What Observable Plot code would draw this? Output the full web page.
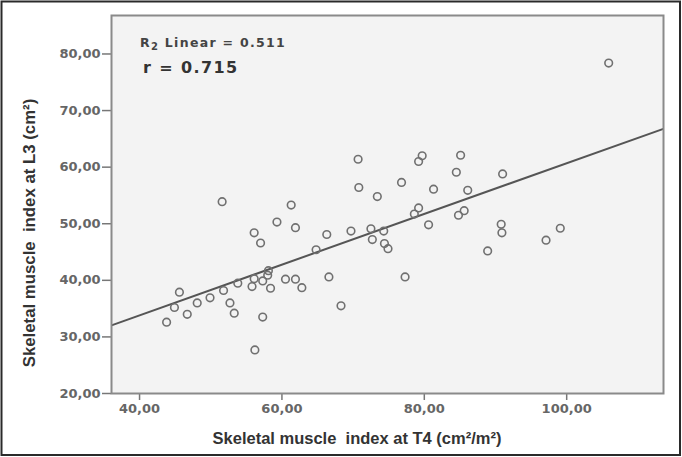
<!DOCTYPE html>
<html>
<head>
<meta charset="utf-8">
<script src="https://cdn.jsdelivr.net/npm/d3@7"></script>
<script src="https://cdn.jsdelivr.net/npm/@observablehq/plot@0.6"></script>
<style>
  html, body { margin: 0; padding: 0; background: #fff; }
  #chart svg { display: block; }
</style>
</head>
<body>
<div id="chart"></div>
<script>
// Skeletal muscle index at T4 (cm²/m²)
const smiT4 = [51.6, 61.3, 59.3, 61.9, 56.1, 57.0, 70.8, 73.4, 64.8, 66.3, 69.7, 72.5, 72.7, 74.3, 74.4, 74.9,
  58.1, 58.0, 56.1, 57.3, 55.8, 58.4, 60.5, 61.9, 62.8, 66.6, 68.3, 53.8, 51.8, 52.7, 53.3, 49.9, 48.1, 45.6,
  44.9, 46.7, 43.8, 57.3, 56.2, 105.9, 79.7, 79.2, 85.1, 84.5, 91.0, 76.8, 81.3, 86.1, 79.2, 78.6, 84.8, 85.6,
  80.6, 90.8, 90.9, 99.1, 97.1, 88.9, 77.3, 70.7];
// Skeletal muscle index at L3 (cm²)
const smiL3 = [53.9, 53.3, 50.3, 49.3, 48.4, 46.6, 56.4, 54.8, 45.4, 48.1, 48.7, 49.1, 47.2, 48.7, 46.5, 45.6,
  41.7, 40.9, 40.3, 39.9, 38.9, 38.6, 40.2, 40.2, 38.7, 40.6, 35.5, 39.5, 38.2, 36.0, 34.2, 36.9, 36.0, 37.9,
  35.2, 34.0, 32.6, 33.5, 27.7, 78.4, 62.0, 61.0, 62.1, 59.1, 58.8, 57.3, 56.1, 55.9, 52.8, 51.7, 51.5, 52.3,
  49.8, 49.9, 48.4, 49.2, 47.1, 45.2, 40.6, 61.4];
const xTicks = [40, 60, 80, 100];
const yTicks = [20, 30, 40, 50, 60, 70, 80];
const xDomain = [36.06, 113.6];
const yDomain = [20, 86.8];
const r2Text = "0.511";
const rText = "0.715";
const xTitle = "Skeletal muscle  index at T4 (cm²/m²)";
const yTitle = "Skeletal muscle  index at L3 (cm²)";

const points = smiT4.map((x, i) => ({x, y: smiL3[i]}));
// least squares fit line
const mx = d3.mean(smiT4), my = d3.mean(smiL3);
const slope = d3.sum(points, d => (d.x - mx) * (d.y - my)) / d3.sum(points, d => (d.x - mx) ** 2);
const intercept = my - slope * mx;
const fit = xDomain.map(x => ({x, y: intercept + slope * x}));

const fmt = d => d.toFixed(2).replace(".", ",");

const W = 682, H = 457;
const svg = Plot.plot({
  width: W, height: H,
  marginLeft: 111, marginRight: 19, marginTop: 15, marginBottom: 64,
  style: {background: "#fff", fontFamily: "DejaVu Sans, sans-serif"},
  x: {domain: xDomain},
  y: {domain: yDomain},
  marks: [
    Plot.frame({fill: "#f3f3f3", stroke: "none"}),
    Plot.axisX({ticks: xTicks, tickFormat: fmt, tickSize: 7, tickPadding: 3, label: null,
      fontSize: 13, fontWeight: "bold", fill: "#666", stroke: "#777", strokeWidth: 1.5}),
    Plot.axisY({ticks: yTicks, tickFormat: fmt, tickSize: 9, tickPadding: 2, label: null,
      fontSize: 13, fontWeight: "bold", fill: "#666", stroke: "#777", strokeWidth: 1.5}),
    Plot.line(fit, {x: "x", y: "y", stroke: "#555", strokeWidth: 2, clip: true}),
    Plot.dot(points, {x: "x", y: "y", r: 3.8, stroke: "#707070", strokeWidth: 1.6, fill: "none"}),
    Plot.frame({stroke: "#8a8a8a", strokeWidth: 2})
  ]
});

const s = d3.select(svg);
// outer border
s.append("rect").attr("x", 1.5).attr("y", 1.5).attr("width", W - 3.5).attr("height", H - 3.5)
  .attr("fill", "none").attr("stroke", "#2a2a2a").attr("stroke-width", 2);
// axis titles
s.append("text").attr("x", 357).attr("y", 444).attr("text-anchor", "middle")
  .attr("font-family", "Liberation Sans, Arial, sans-serif").attr("font-weight", "bold")
  .attr("font-size", 16.5).attr("fill", "#333").text(xTitle);
s.append("text").attr("transform", "translate(35,233) rotate(-90)").attr("text-anchor", "middle")
  .attr("font-family", "Liberation Sans, Arial, sans-serif").attr("font-weight", "bold")
  .attr("font-size", 16.8).attr("fill", "#333").text(yTitle);
// annotations
const a1 = s.append("text").attr("x", 140).attr("y", 47).attr("text-anchor", "start")
  .attr("font-family", "DejaVu Sans, sans-serif").attr("font-weight", "bold")
  .attr("font-size", 12.5).attr("letter-spacing", 1.3).attr("fill", "#444");
a1.append("tspan").text("R");
a1.append("tspan").attr("dy", 3).attr("font-size", 10).text("2");
a1.append("tspan").attr("dy", -3).text(" Linear = " + r2Text);
s.append("text").attr("x", 143).attr("y", 73).attr("text-anchor", "start")
  .attr("font-family", "DejaVu Sans, sans-serif").attr("font-weight", "bold")
  .attr("font-size", 16).attr("letter-spacing", 1.4).attr("fill", "#333").text("r = " + rText);

document.getElementById("chart").appendChild(svg);
</script>
</body>
</html>
